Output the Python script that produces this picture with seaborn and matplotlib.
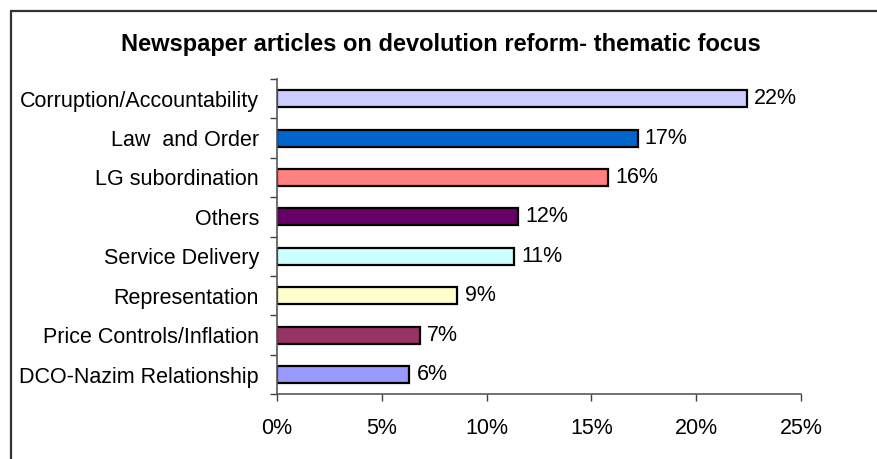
import matplotlib
matplotlib.use("Agg")
import matplotlib.pyplot as plt
import seaborn as sns
import pandas as pd
from matplotlib.lines import Line2D
from matplotlib.ticker import FixedLocator, PercentFormatter

# Share of newspaper articles per theme (percent)
categories = [
    "Corruption/Accountability",
    "Law  and Order",
    "LG subordination",
    "Others",
    "Service Delivery",
    "Representation",
    "Price Controls/Inflation",
    "DCO-Nazim Relationship",
]
shares = [22.4, 17.2, 15.8, 11.5, 11.3, 8.6, 6.8, 6.3]
bar_colors = ["#CCCCFF", "#0066CC", "#FF8080", "#660066",
              "#CCFFFF", "#FFFFCC", "#993366", "#9999FF"]
x_ticks = [0, 5, 10, 15, 20, 25]

sns.set_theme(style="white")
plt.rcParams["font.family"] = ["Liberation Sans", "DejaVu Sans"]
plt.rcParams["text.color"] = "black"
plt.rcParams["xtick.color"] = "black"
plt.rcParams["ytick.color"] = "black"

df = pd.DataFrame({"theme": categories, "share": shares})

fig = plt.figure(figsize=(8.78, 4.59), dpi=100)
ax = fig.add_axes([0.3155, 0.141, 0.5968, 0.687])

sns.barplot(data=df, x="share", y="theme", hue="theme", order=categories,
            hue_order=categories, palette=bar_colors, saturation=1, orient="h",
            width=0.43, edgecolor="black", linewidth=1.6, legend=False, ax=ax)

for patch, v in zip(ax.patches, shares):
    ax.text(patch.get_width() + 0.35, patch.get_y() + patch.get_height() / 2,
            f"{v:.0f}%", va="center", ha="left", fontsize=15.5, color="black")

ax.set_xlim(0, 25)
ax.set_ylim(len(categories) - 0.5, -0.5)
ax.set_xticks(x_ticks)
ax.xaxis.set_major_formatter(PercentFormatter(decimals=0))
ax.set_xlabel("")
ax.set_ylabel("")

# category ticks sit between bars, labels at bar centres
ax.yaxis.set_minor_locator(FixedLocator([i + 0.5 for i in range(-1, len(categories))]))
ax.tick_params(axis="y", which="major", length=0, pad=13, labelsize=15.5, labelcolor="black")
ax.tick_params(axis="y", which="minor", length=5, width=1, color="#404040", direction="out", left=True)
ax.tick_params(axis="x", which="major", length=5, width=1, color="#404040", direction="out",
               bottom=True, pad=12, labelsize=15.5, labelcolor="black")

for side in ("top", "right"):
    ax.spines[side].set_visible(False)
for side in ("left", "bottom"):
    ax.spines[side].set_color("#595959")
    ax.spines[side].set_linewidth(1.2)

fig.text(0.502, 0.902, "Newspaper articles on devolution reform- thematic focus",
         ha="center", va="center", fontsize=17, fontweight="bold", color="black")

# outer chart frame
fig.add_artist(Line2D([11 / 878, 11 / 878], [0, 1 - 11 / 459], transform=fig.transFigure,
                      color="#333333", linewidth=1.6))
fig.add_artist(Line2D([11 / 878, 1], [1 - 11 / 459, 1 - 11 / 459], transform=fig.transFigure,
                      color="#333333", linewidth=1.6))

fig.savefig("out.png", dpi=100)
